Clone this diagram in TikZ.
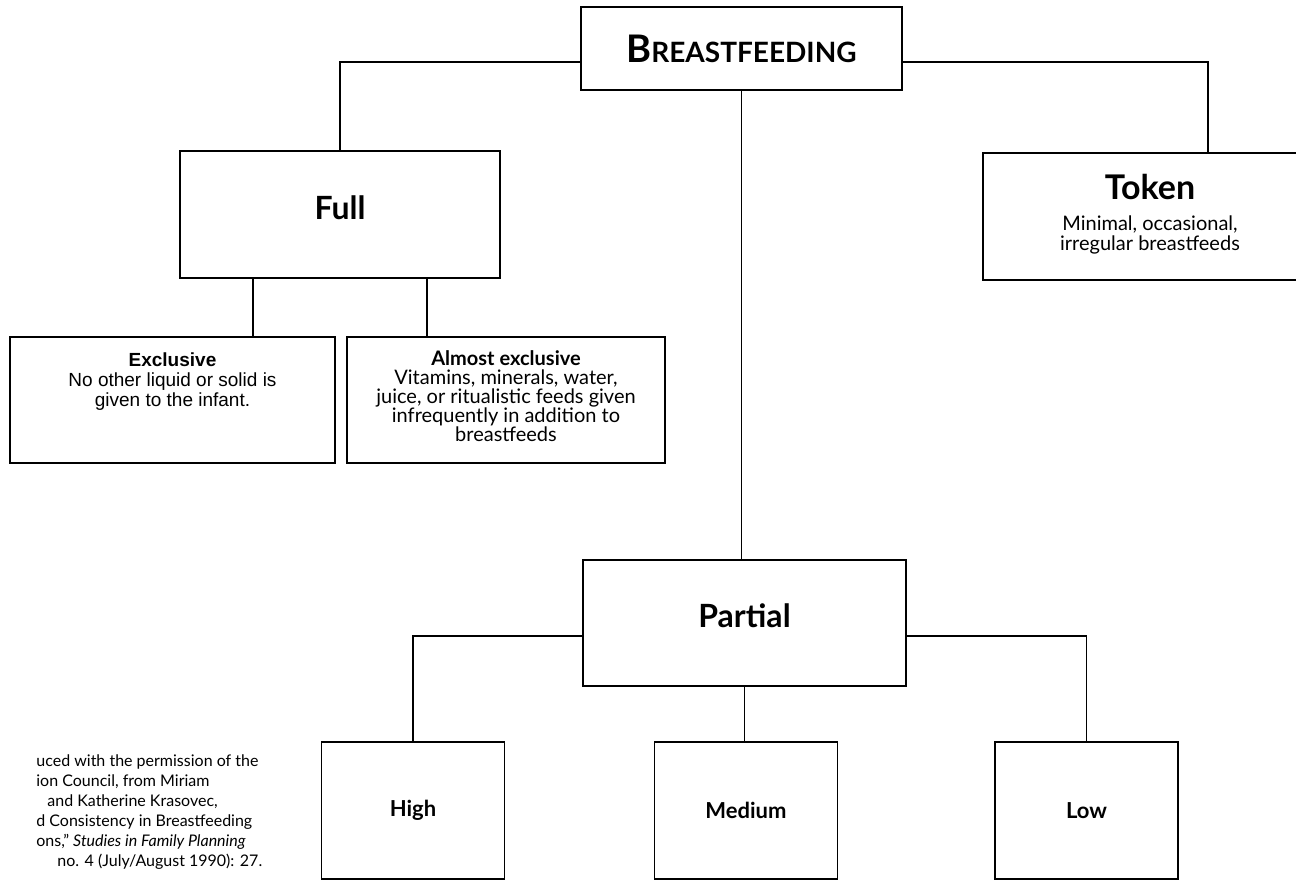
\documentclass[tikz,border=0pt]{standalone}
\usepackage{fontspec}
\setmainfont{Lato}
\newfontfamily\helv{Liberation Sans}
\usetikzlibrary{positioning, calc}

\begin{document}
\begin{tikzpicture}[x=0.5pt, y=-0.5pt,
  box/.style={draw, line width=0.9pt, inner sep=0pt},
  link/.style={line width=0.9pt},
  head/.style={font=\bfseries\fontsize{16}{18}\selectfont, text depth=7pt},
  lvl/.style={font=\bfseries\fontsize{11}{12}\selectfont},
  txt/.style={align=center, anchor=north, inner sep=0pt},
]
  \useasboundingbox (0,0) rectangle (1296,882);
  \clip (0,0) rectangle (1296,882);

  % top
  \node[box, minimum width=160.5pt, minimum height=41.5pt] (top) at (741.5,48.5)
    {\bfseries{\fontsize{19}{19}\selectfont B}{\fontsize{14}{14}\selectfont REASTFEEDING}};

  % full / token / partial
  \node[box, head, minimum width=160pt, minimum height=63.5pt] (full) at (340,214.5) {Full};
  \node[box, minimum width=167pt, minimum height=63.5pt] (token) at (1150,216.5) {};
  \node[txt, font=\fontsize{10}{10}\selectfont] (tokent) at ([yshift=-11pt]token.north)
    {{\fontsize{17}{17}\selectfont\bfseries Token}\\[5.5pt]
     Minimal, occasional,\\ irregular breastfeeds};
  \node[box, head, minimum width=161.5pt, minimum height=63pt] (partial) at (744.5,623) {Partial};

  % under full
  \node[box, minimum width=162.5pt, minimum height=63pt] (excl) at (172.5,400) {};
  \node[txt, font=\helv\fontsize{9.5}{10}\selectfont] (exclt) at ([yshift=-8pt]excl.north)
    {{\bfseries Exclusive}\\ No other liquid or solid is\\ given to the infant.};
  \node[box, minimum width=159pt, minimum height=63pt] (almost) at (506,400) {};
  \node[txt, font=\fontsize{10}{9.5}\selectfont] (almostt) at ([yshift=-7pt]almost.north)
    {{\bfseries Almost exclusive}\\ Vitamins, minerals, water,\\
     juice, or ritualistic feeds given\\ infrequently in addition to\\ breastfeeds};

  % under partial
  \foreach \nm/\x/\lbl in {high/413/High, medium/746/Medium, low/1086.5/Low}
    \node[box, lvl, minimum width=91.5pt, minimum height=68.5pt] (\nm) at (\x,810.5) {\lbl};

  % connectors
  \draw[link] ([yshift=-6.75pt]top.west) -| (full.north);
  \draw[link] ([yshift=-6.75pt]top.east) -| ([xshift=29pt]token.north);
  \draw[link] (top.south) -- (top.south |- partial.north);
  \coordinate (fa) at ([xshift=-43.5pt]full.south);
  \coordinate (fb) at ([xshift=43.5pt]full.south);
  \draw[link] (fa) -- (fa |- excl.north);
  \draw[link] (fb) -- (fb |- almost.north);
  \draw[link] ([yshift=-6.5pt]partial.west) -| (high.north);
  \draw[link] ([yshift=-6.5pt]partial.east) -| (low.north);
  \draw[link] (partial.south) -- (partial.south |- medium.north);

  % source note
  \node[anchor=north west, inner sep=0pt, align=left, font=\fontsize{8}{10}\selectfont] (src) at (36,754)
    {uced with the permission of the\\
     ion Council, from Miriam\\
     \hspace*{5.5pt}and Katherine Krasovec,\\
     d Consistency in Breastfeeding\\
     ons,” \textit{Studies in Family Planning}\\
     \hspace*{10.5pt}no. 4 (July/August 1990): 27.};
\end{tikzpicture}
\end{document}
